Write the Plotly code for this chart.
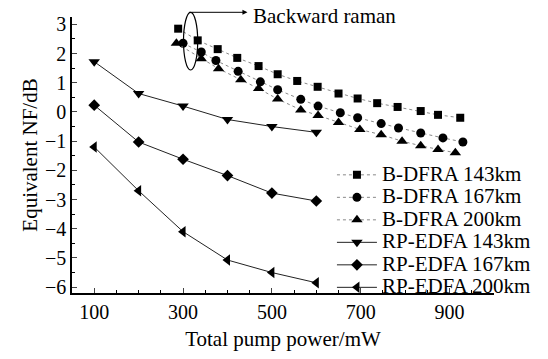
import plotly.graph_objects as go

# B-DFRA data
bd143_x = [289, 333, 378, 422, 470, 513, 557, 603, 650, 693, 737, 783, 835, 874, 924]
bd143_y = [2.85, 2.45, 2.15, 1.85, 1.57, 1.29, 1.06, 0.86, 0.63, 0.46, 0.3, 0.17, 0.03, -0.1, -0.2]
bd167_x = [300, 341, 374, 424, 474, 513, 565, 604, 654, 693, 746, 785, 835, 885, 930]
bd167_y = [2.35, 2.05, 1.76, 1.39, 1.03, 0.76, 0.43, 0.2, -0.03, -0.2, -0.4, -0.55, -0.72, -0.89, -1.03]
bd200_x = [285, 341, 380, 430, 470, 513, 565, 604, 650, 698, 746, 793, 835, 874, 913]
bd200_y = [2.35, 1.82, 1.48, 1.1, 0.8, 0.44, 0.07, -0.12, -0.36, -0.6, -0.78, -1.0, -1.16, -1.29, -1.4]

# RP-EDFA data
rp_x = [100, 200, 300, 400, 500, 600]
rp143_y = [1.72, 0.63, 0.2, -0.26, -0.5, -0.7]
rp167_y = [0.23, -1.03, -1.62, -2.18, -2.78, -3.05]
rp200_y = [-1.2, -2.7, -4.1, -5.07, -5.5, -5.85]

series_names = ["B-DFRA 143km", "B-DFRA 167km", "B-DFRA 200km",
                "RP-EDFA 143km", "RP-EDFA 167km", "RP-EDFA 200km"]
x_ticks = [100, 300, 500, 700, 900]
y_ticks = [3, 2, 1, 0, -1, -2, -3, -4, -5, -6]

FONT = "Liberation Serif"


def lg(name):
    # larger visible text while the legend row height follows the smaller legend font
    return '<span style="font-size:21px">' + name + '</span>'


fig = go.Figure()

dotted = dict(color="#888888", width=1, dash="dot")
solid = dict(color="#222222", width=1)

fig.add_trace(go.Scatter(x=bd143_x, y=bd143_y, mode="lines+markers", name=lg(series_names[0]),
                         line=dotted, marker=dict(symbol="square", size=8, color="black")))
fig.add_trace(go.Scatter(x=bd167_x, y=bd167_y, mode="lines+markers", name=lg(series_names[1]),
                         line=dotted, marker=dict(symbol="circle", size=9, color="black")))
fig.add_trace(go.Scatter(x=bd200_x, y=bd200_y, mode="lines+markers", name=lg(series_names[2]),
                         line=dotted, marker=dict(symbol="triangle-up", size=10, color="black")))
fig.add_trace(go.Scatter(x=rp_x, y=rp143_y, mode="lines+markers", name=lg(series_names[3]),
                         line=solid, marker=dict(symbol="triangle-down", size=10, color="black")))
fig.add_trace(go.Scatter(x=rp_x, y=rp167_y, mode="lines+markers", name=lg(series_names[4]),
                         line=solid, marker=dict(symbol="diamond", size=9, color="black")))
fig.add_trace(go.Scatter(x=rp_x, y=rp200_y, mode="lines+markers", name=lg(series_names[5]),
                         line=solid, marker=dict(symbol="triangle-left", size=10, color="black")))

# ellipse around first B-DFRA points
fig.add_shape(type="circle", xref="x", yref="paper", x0=301, x1=333, y0=0.808, y1=1.017,
              line=dict(color="black", width=1.2), fillcolor="rgba(0,0,0,0)")
fig.add_annotation(x=445, y=1.017, xref="x", yref="paper", ax=-60, ay=0,
                   showarrow=True, arrowhead=2, arrowsize=1, arrowwidth=1, arrowcolor="black", text="")
fig.add_annotation(x=452, y=1.005, xref="x", yref="paper", text="Backward raman",
                   showarrow=False, xanchor="left", yanchor="middle",
                   font=dict(family=FONT, size=21, color="black"))

fig.update_layout(
    width=548, height=359,
    margin=dict(l=72, r=40, t=17, b=56),
    paper_bgcolor="white", plot_bgcolor="white",
    font=dict(family=FONT, size=20, color="black"),
    showlegend=True,
    legend=dict(x=0.616, xanchor="left", y=0.487, yanchor="top",
                font=dict(family=FONT, size=15), bgcolor="rgba(0,0,0,0)",
                tracegroupgap=0, itemwidth=40, traceorder="normal"),
)
fig.update_xaxes(range=[50, 1000], tickvals=x_ticks, ticks="inside", ticklen=5,
                 showline=True, linecolor="black", linewidth=1.5, showgrid=False, zeroline=False,
                 minor=dict(dtick=50, tick0=0, ticks="inside", ticklen=3, tickcolor="black"),
                 title=dict(text="Total pump power/mW", font=dict(family=FONT, size=21), standoff=10))
fig.update_yaxes(range=[-6.2, 3.25], tickvals=y_ticks, ticks="inside", ticklen=5,
                 showline=True, linecolor="black", linewidth=1.5, showgrid=False, zeroline=False,
                 minor=dict(dtick=0.5, tick0=0, ticks="inside", ticklen=3, tickcolor="black"),
                 title=dict(text="Equivalent NF/dB", font=dict(family=FONT, size=21), standoff=2))

fig.write_html("out.html")
